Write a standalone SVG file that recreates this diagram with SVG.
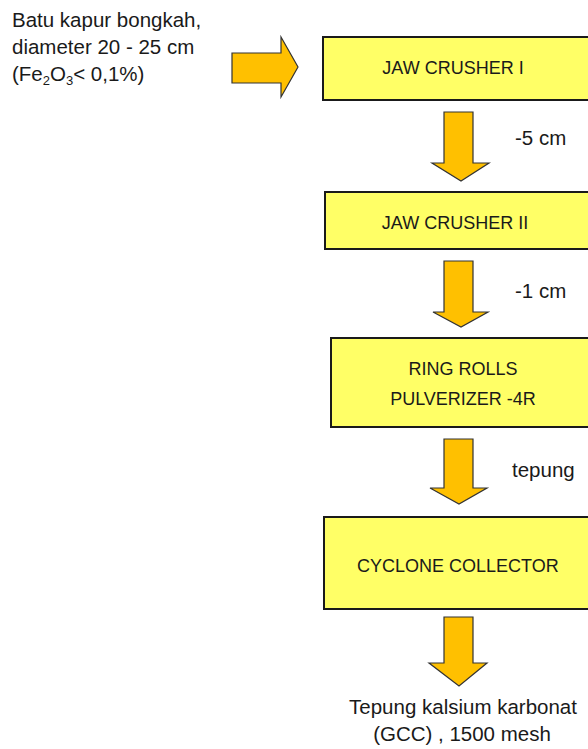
<svg xmlns="http://www.w3.org/2000/svg" width="588" height="749" viewBox="0 0 588 749">
  <style>
    .box { fill: #FFFF66; stroke: #1a1a1a; stroke-width: 2; }
    .arr { fill: #FFC000; stroke: #333333; stroke-width: 1.2; stroke-linejoin: miter; }
    text { font-family: "Liberation Sans", Arial, sans-serif; font-size: 20.5px; fill: #1a1a1a; }
    .lbl { font-size: 18px; }
    .c { text-anchor: middle; }
  </style>
  <rect width="588" height="749" fill="#ffffff"/>

  <!-- input description -->
  <g id="input">
    <text x="12" y="27">Batu kapur bongkah,</text>
    <text x="12" y="54">diameter 20 - 25 cm</text>
    <text x="12" y="81">(Fe<tspan font-size="13" dy="4">2</tspan><tspan dy="-4">O</tspan><tspan font-size="13" dy="4">3</tspan><tspan dy="-4">&lt; 0,1%)</tspan></text>
  </g>

  <g id="jaw1">
    <rect class="box" x="323" y="37" width="280" height="63"/>
    <text class="c lbl" x="453" y="74">JAW CRUSHER I</text>
  </g>
  <g id="jaw2">
    <rect class="box" x="325" y="192" width="280" height="57"/>
    <text class="c lbl" x="455" y="229">JAW CRUSHER II</text>
  </g>
  <g id="pulverizer">
    <rect class="box" x="331" y="338" width="280" height="89"/>
    <text class="c lbl" x="463" y="375">RING ROLLS</text>
    <text class="c lbl" x="463" y="405">PULVERIZER -4R</text>
  </g>
  <g id="cyclone">
    <rect class="box" x="324" y="517" width="280" height="92"/>
    <text class="lbl" x="357" y="572">CYCLONE COLLECTOR</text>
  </g>
  <g id="product">
    <text class="c" x="463" y="714">Tepung kalsium karbonat</text>
    <text class="c" x="462" y="741">(GCC) , 1500 mesh</text>
  </g>

  <!-- block arrows between stages -->
  <g id="connectors">
    <polygon class="arr" points="232,53 281,53 281,37 298,67 281,97 281,83 232,83"/>
    <polygon class="arr" points="444,112 473,112 473,163 489,163 461,181 432,163 444,163"/>
    <polygon class="arr" points="444,261 473,261 473,312 488,312 461,327 433,312 444,312"/>
    <polygon class="arr" points="444,439 473,439 473,488 487,488 459,504 430,488 444,488"/>
    <polygon class="arr" points="444,617 473,617 473,663 487,663 459,686 429,663 444,663"/>
    <text x="515" y="145">-5 cm</text>
    <text x="515" y="298">-1 cm</text>
    <text x="512" y="477">tepung</text>
  </g>
</svg>
